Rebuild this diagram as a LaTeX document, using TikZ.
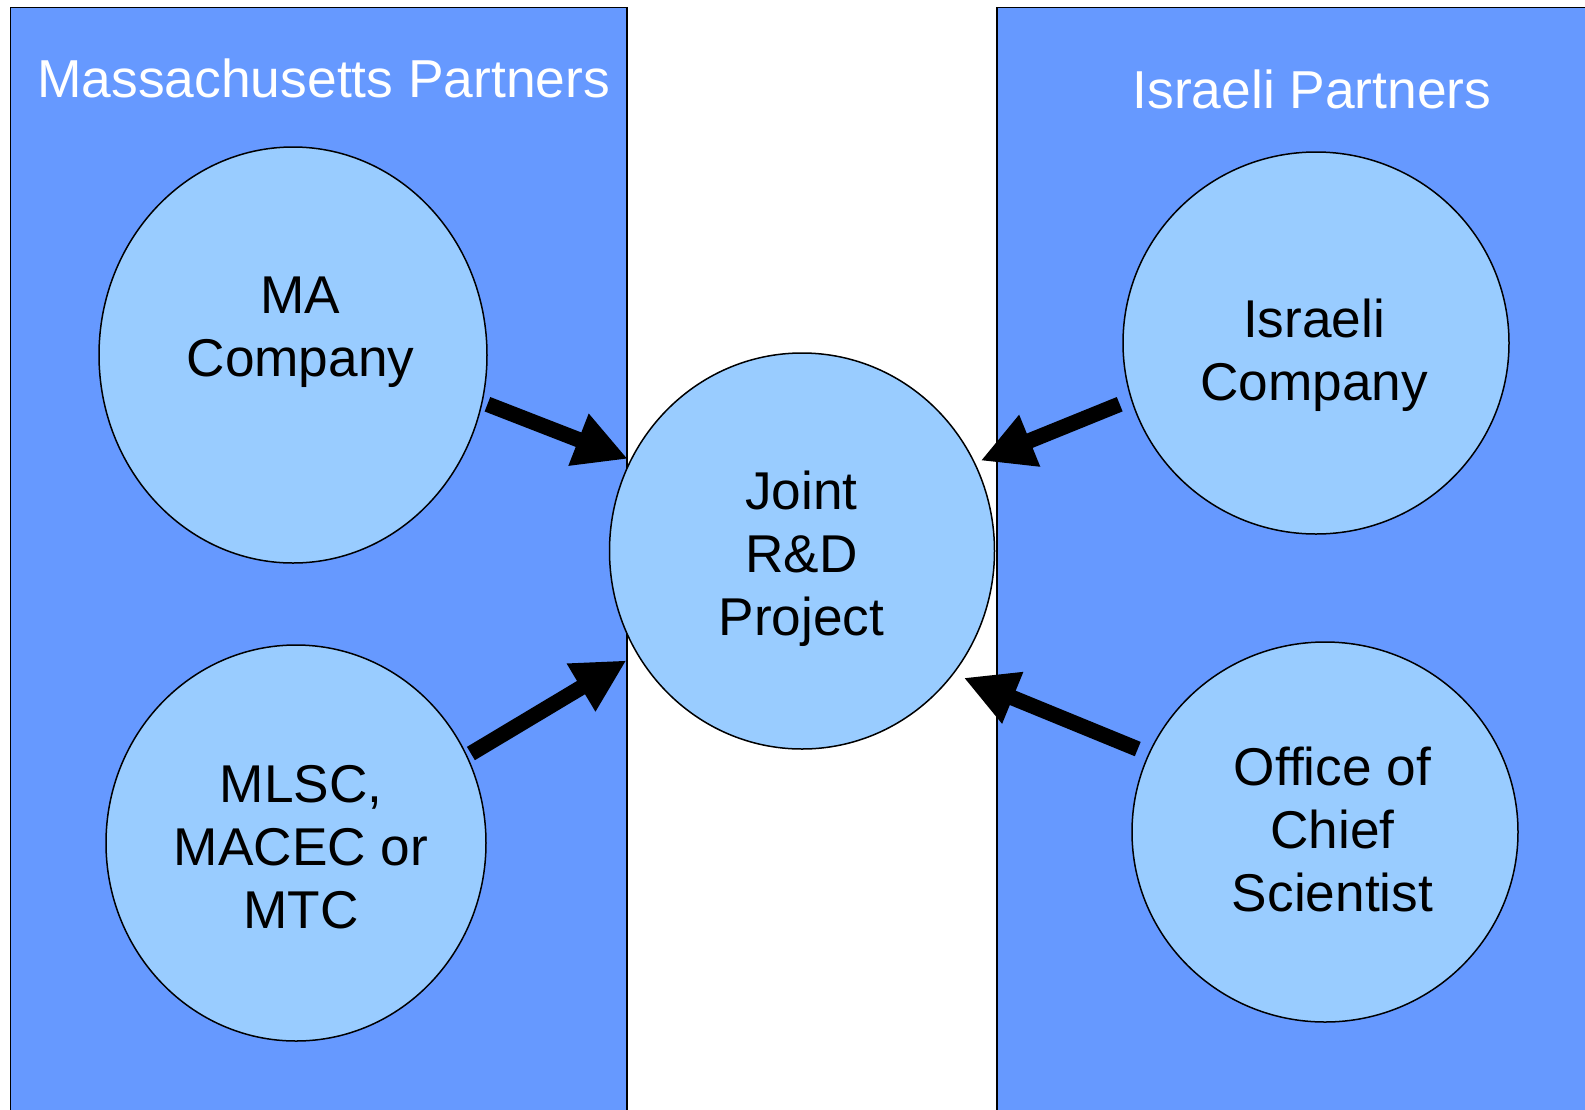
\documentclass[tikz,border=0pt]{standalone}
\usepackage{fontspec}
\setmainfont{Liberation Sans}
\usetikzlibrary{shapes.geometric}
\usetikzlibrary{arrows.meta}
\definecolor{panelblue}{RGB}{102,153,255}
\definecolor{bubbleblue}{RGB}{153,204,255}
\tikzstyle{panel} = [draw=black, line width=0.7pt, fill=panelblue]
\tikzstyle{heading} = [text=white, anchor=base, inner sep=0pt, font={\fontsize{26.7pt}{31.5pt}\selectfont}]
\tikzstyle{partner} = [ellipse, draw=black, line width=0.75pt, fill=bubbleblue, inner sep=0pt, outer sep=0pt]
\tikzstyle{caption} = [align=center, anchor=base, inner sep=0pt, font={\fontsize{26.6pt}{31.5pt}\selectfont}]
\tikzstyle{flow} = [-{Triangle[length=26.5pt, width=26pt]}, line width=7.75pt, draw=black]

\begin{document}
\begin{tikzpicture}[x=0.5pt, y=-0.5pt]
  \useasboundingbox (0,0) rectangle (1585,1109);
  \clip (0,0) rectangle (1585,1109);
  % the two partner panels
  \draw[panel] (10.5,7.5) rectangle (627,1130);
  \draw[panel] (997,7.5) rectangle (1610,1130);
  \node[heading] (ma-head) at (323.7,97.5) {Massachusetts Partners};
  \node[heading] (il-head) at (1312,108.3) {Israeli Partners};
  % bubbles
  \node[partner, minimum width=194pt, minimum height=208pt] (ma) at (293,355) {};
  \node[partner, minimum width=190pt, minimum height=198pt] (mlsc) at (296,843) {};
  \node[partner, minimum width=192.5pt, minimum height=198pt] (joint) at (802,551) {};
  \node[partner, minimum width=193pt, minimum height=191pt] (il) at (1316,343) {};
  \node[partner, minimum width=193pt, minimum height=190pt] (ocs) at (1325,832) {};
  % texts sit on the baseline of their last line
  \node[caption] (ma-txt) at (300.5,376) {MA\\Company};
  \node[caption] (mlsc-txt) at (301,928) {MLSC,\\MACEC or\\MTC};
  \node[caption] (joint-txt) at (801.5,635) {Joint\\R\&D\\Project};
  \node[caption] (il-txt) at (1314,400) {Israeli\\Company};
  \node[caption] (ocs-txt) at (1332.5,911) {Office of\\Chief\\Scientist};
  % arrows into the joint project
  \draw[flow, shorten <=2.95pt, shorten >=1.66pt] (ma.-14.7) -- (joint.152.4);
  \draw[flow, shorten <=2.46pt, shorten >=6.4pt] (mlsc.27.9) -- (joint.212.2);
  \draw[flow, shorten <=6.43pt, shorten >=3.3pt] (il.197.9) -- (joint.27.5);
  \draw[flow, shorten <=6.17pt, shorten >=5.65pt] (ocs.156.3) -- (joint.-39.2);
\end{tikzpicture}
\end{document}
